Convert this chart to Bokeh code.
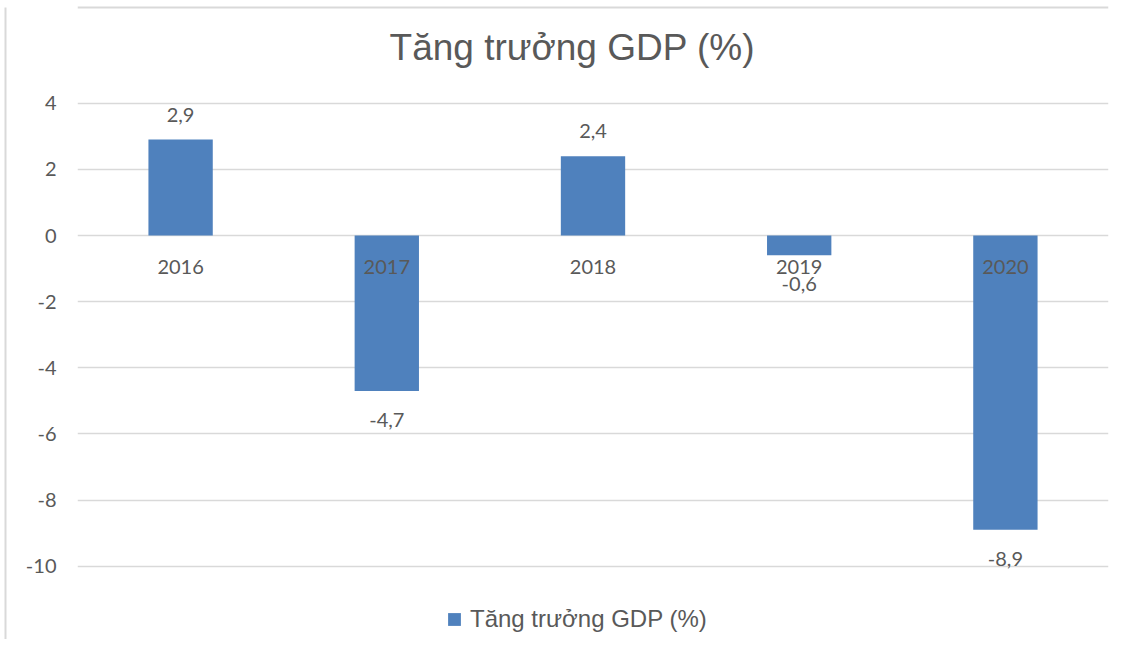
from bokeh.plotting import figure
from bokeh.models import (ColumnDataSource, FixedTicker, Label, FactorRange, Range1d,
                          LinearAxis, Span)
from bokeh.core.properties import value
from bokeh.embed import file_html
from bokeh.resources import INLINE

years = ["2016", "2017", "2018", "2019", "2020"]
gdp = [2.9, -4.7, 2.4, -0.6, -8.9]
y_ticks = [-10, -8, -6, -4, -2, 0, 2, 4]
title_text = "Tăng trưởng GDP (%)"
series_name = "Tăng trưởng GDP (%)"

BAR = "#4F81BD"
TXT = "#595959"
GRID = "#d9d9d9"
NUMFONT = "Lato"
SANS = "Liberation Sans"

Y_BOTTOM, Y_TOP = -12.216, 7.106
BORDER_Y = 6.894  # value level of the chart border line at the top

def fmt(v):
    return f"{v:.1f}".replace(".", ",")

p = figure(
    width=1116, height=639,
    x_range=FactorRange(factors=years),
    y_range=Range1d(Y_BOTTOM, Y_TOP),
    x_axis_location=None,
    output_backend="svg", toolbar_location=None,
    min_border_left=77, min_border_right=8, min_border_top=0, min_border_bottom=0,
)
p.outline_line_color = None
p.background_fill_color = "white"
p.border_fill_color = "white"

p.xgrid.visible = False
p.ygrid.ticker = FixedTicker(ticks=y_ticks)
p.ygrid.grid_line_color = GRID
p.ygrid.grid_line_width = 1.5

ax = p.yaxis[0]
ax.ticker = FixedTicker(ticks=y_ticks)
ax.major_label_overrides = {t: str(t) for t in y_ticks}
ax.axis_line_color = None
ax.major_tick_line_color = None
ax.minor_tick_line_color = None
ax.major_tick_in = 0
ax.major_tick_out = 0
ax.major_label_standoff = 21
ax.major_label_text_font = NUMFONT
ax.major_label_text_font_size = "20px"
ax.major_label_text_color = TXT
# invisible axis label just to widen the axis panel so the outer border sits at the chart edge
ax.axis_label = "."
ax.axis_label_standoff = 7
ax.axis_label_text_font = NUMFONT
ax.axis_label_text_font_size = "10px"
ax.axis_label_text_alpha = 0

# outer axis used only for its line: the left edge of the chart-area border
edge = LinearAxis(ticker=FixedTicker(ticks=[]), axis_line_color=GRID, axis_line_width=2,
                  major_tick_line_color=None, minor_tick_line_color=None,
                  major_tick_in=0, major_tick_out=0, minor_tick_in=0, minor_tick_out=0,
                  major_label_standoff=0, bounds=(Y_BOTTOM, BORDER_Y))
p.add_layout(edge, "left")

# top edge of the chart-area border
p.add_layout(Span(location=BORDER_Y, dimension="width", line_color=GRID, line_width=2))

src = ColumnDataSource(dict(x=years, top=gdp))
p.vbar(x="x", top="top", bottom=0, width=0.312, source=src,
       fill_color=BAR, line_color=None, legend_label=series_name)

pos = [(y, v) for y, v in zip(years, gdp) if v >= 0]
neg = [(y, v) for y, v in zip(years, gdp) if v < 0]
src_pos = ColumnDataSource(dict(x=[a for a, _ in pos], y=[b for _, b in pos], t=[fmt(b) for _, b in pos]))
src_neg = ColumnDataSource(dict(x=[a for a, _ in neg], y=[b for _, b in neg], t=[fmt(b) for _, b in neg]))
common = dict(text_font=value(NUMFONT), text_font_size="20px", text_color=TXT,
              text_align="center", text_baseline="middle")
p.text(x="x", y="y", text="t", source=src_pos, y_offset=-25, **common)
p.text(x="x", y="y", text="t", source=src_neg, y_offset=29, **common)

# category labels at the zero axis
src_cat = ColumnDataSource(dict(x=years, y=[0] * len(years), t=years))
p.text(x="x", y="y", text="t", source=src_cat, y_offset=31, **common)

title = Label(x=2.40, y=5.67, text=title_text, text_font=SANS, text_font_size="37px",
              text_color=TXT, text_align="center", text_baseline="middle")
p.add_layout(title)

lg = p.legend[0]
lg.location = (369, 6)
lg.orientation = "horizontal"
lg.padding = 0
lg.margin = 0
lg.spacing = 0
lg.border_line_color = None
lg.background_fill_alpha = 0
lg.glyph_width = 16
lg.glyph_height = 16
lg.label_standoff = 8
lg.label_text_font = SANS
lg.label_text_font_size = "24px"
lg.label_text_color = TXT

open("out.html", "w").write(file_html(p, INLINE))
